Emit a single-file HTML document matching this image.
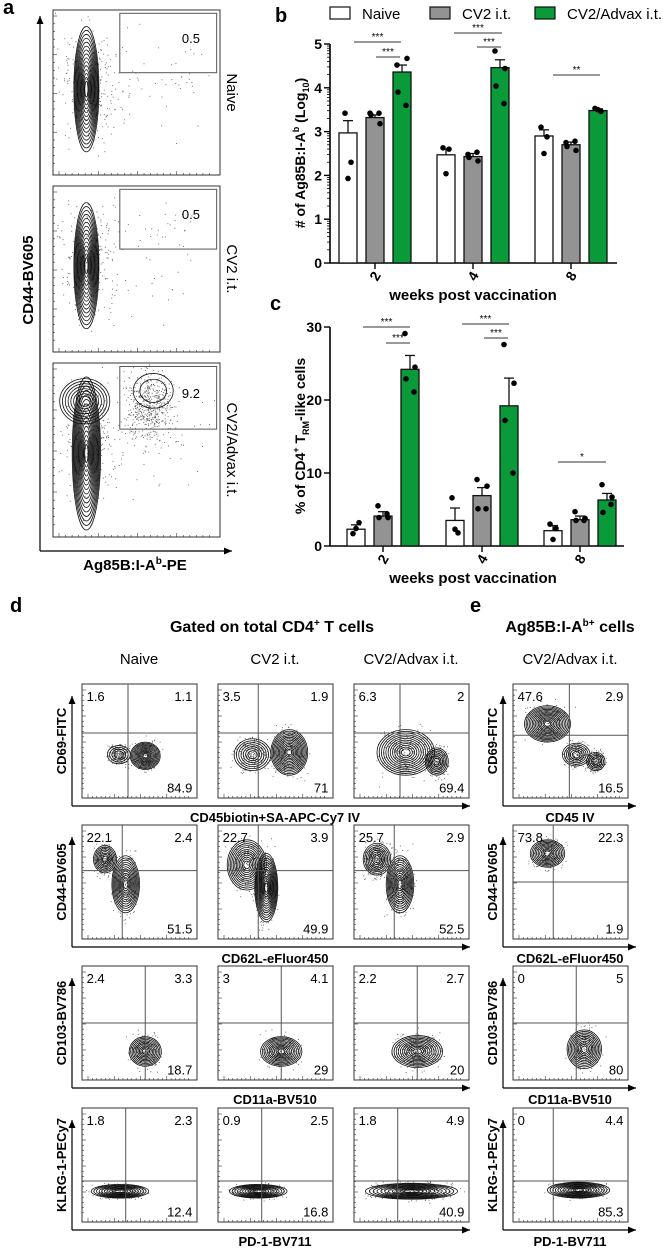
<!DOCTYPE html>
<html><head><meta charset="utf-8"><style>
body{margin:0;background:#fff}
svg{display:block;font-family:"Liberation Sans",Arial,sans-serif}
</style></head><body>
<svg id="fig" width="663" height="1248" viewBox="0 0 663 1248" xmlns="http://www.w3.org/2000/svg"></svg>
<script>
// ---------- chart data ----------
const groups = ["2","4","8"];
const seriesNames = ["Naive","CV2 i.t.","CV2/Advax i.t."];
const bMeans = [[2.97,3.32,4.36],[2.47,2.43,4.46],[2.9,2.7,3.48]];
const bErr = [[3.25,3.38,4.52],[2.6,2.5,4.64],[3.04,2.76,3.52]];
const bPts = [[[3.42,2.3,1.93],[3.42,3.18,3.38,3.42],[4.52,4.67,3.9,3.6]],
              [[2.63,2.6,2.04],[2.48,2.33,2.41,2.53],[4.84,4.44,4.04,3.64]],
              [[3.1,2.88,2.5],[2.75,2.57,2.66,2.78],[3.53,3.46,3.5]]];
const bTicks = [0,1,2,3,4,5];
const cMeans = [[2.3,4.1,24.2],[3.5,6.9,19.2],[2.1,3.6,6.3]];
const cErr = [[2.9,4.7,26.1],[5.2,8.0,23.0],[2.8,4.1,7.2]];
const cPts = [[[1.7,3.2,2.4],[5.5,3.9,3.9,4.4],[29.1,24.5,22.9,21.1]],
              [[6.6,1.8,2.3],[9.1,8.2,5.1,5.1],[27.6,22.3,17.2,10.0]],
              [[3.0,2.4,0.9],[4.7,3.8,3.5,3.5],[8.4,6.7,4.6,5.7]]];
const cTicks = [0,10,20,30];

const NS="http://www.w3.org/2000/svg";
const svg=document.getElementById('fig');
function el(tag,attrs,parent,text){const e=document.createElementNS(NS,tag);for(const k in attrs)e.setAttribute(k,attrs[k]);if(text!==undefined)e.textContent=text;(parent||svg).appendChild(e);return e;}
const fills=["#ffffff","#939393","#0a9a3a"];
let seed=7;function rnd(){seed=(seed*16807)%2147483647;return seed/2147483647;}
function gauss(){return (rnd()+rnd()+rnd()-1.5)/1.5;}

function barChart(name,yMin,yMax,y0px,yTopPx,xLeft,xRight,centers,means,errs,pts,ticks,logMinor){
  const g=el('g',{});
  
  
  const ys=v=>y0px-(v-yMin)/(yMax-yMin)*(y0px-yTopPx);
  el('line',{x1:xLeft,y1:yTopPx,x2:xLeft,y2:y0px,stroke:'#000','stroke-width':1.6},g);
  el('line',{x1:xLeft,y1:y0px,x2:xRight,y2:y0px,stroke:'#000','stroke-width':1.6},g);
  ticks.forEach(t=>{el('line',{x1:xLeft-6,y1:ys(t),x2:xLeft,y2:ys(t),stroke:'#000','stroke-width':1.4},g);
    const tl=el('text',{x:xLeft-8,y:ys(t)+5,'text-anchor':'end','font-size':14,'font-weight':'bold'},g,String(t));
    });
  if(logMinor){for(let d=0;d<5;d++)for(let k=2;k<10;k++){const v=d+Math.log10(k);el('line',{x1:xLeft-3,y1:ys(v),x2:xLeft,y2:ys(v),stroke:'#000','stroke-width':0.8},g);}}
  const off=[-27,0,27];
  groups.forEach((gr,gi)=>{
    const cx=centers[gi];
    el('line',{x1:cx,y1:y0px,x2:cx,y2:y0px+6,stroke:'#000','stroke-width':1.4},g);
    const tl=el('text',{x:cx,y:y0px+18,'text-anchor':'middle','font-size':14,'font-weight':'bold',transform:`rotate(-60 ${cx} ${y0px+13})`},g,gr);
    
    for(let s=0;s<3;s++){
      const x=cx+off[s];
      const b=el('rect',{x:x-9,y:ys(means[gi][s]),width:18,height:y0px-ys(means[gi][s]),fill:fills[s],stroke:'#111','stroke-width':1.3},g);
      
      el('line',{x1:x,y1:ys(means[gi][s]),x2:x,y2:ys(errs[gi][s]),stroke:'#111','stroke-width':1.3},g);
      el('line',{x1:x-5,y1:ys(errs[gi][s]),x2:x+5,y2:ys(errs[gi][s]),stroke:'#111','stroke-width':1.3},g);
      const p=pts[gi][s];
      p.forEach((v,i)=>{const dx=p.length===3?[-3,3,0][i]:[-5,5,-4,4][i];
        const c=el('circle',{cx:x+dx,cy:ys(v),r:2.8,fill:'#000'},g);
        });
    }
  });
  return g;
}
barChart('chart-b',0,5,263,44,330,617,[375,473,571],bMeans,bErr,bPts,bTicks,true);
barChart('chart-c',0,30,546,327,330,624,[383,482,580],cMeans,cErr,cPts,cTicks,false);

function T(x,y,s,attrs,name){const a=Object.assign({x:x,y:y},attrs||{});const t=el('text',a,svg,s);return t;}
function sig(x1,x2,y,s){el('line',{x1:x1,y1:y,x2:x2,y2:y,stroke:'#333','stroke-width':1});T((x1+x2)/2,y-2,s,{'text-anchor':'middle','font-size':10},'significance-stars');}
sig(354,401,42,'***');sig(376,400,57,'***');sig(454,502,33,'***');sig(477,501,47,'***');sig(553,600,75,'**');
sig(363,410,327,'***');sig(386,410,343,'***');sig(462,509,324,'***');sig(484,508,338,'***');sig(558,606,462,'*');

const lx=[330,430,535];
seriesNames.forEach((n,i)=>{const r=el('rect',{x:lx[i],y:7,width:20,height:12,fill:fills[i],stroke:'#111','stroke-width':1.2});
  
  T(lx[i]+32,19,n,{'font-size':15},'legend-entry');});

T(275,22,'b',{'font-size':20,'font-weight':'bold'},'panel-label-b');
T(270,310,'c',{'font-size':20,'font-weight':'bold'},'panel-label-c');
T(473,300,'weeks post vaccination',{'text-anchor':'middle','font-size':15,'font-weight':'bold'},'x-axis-title-b');
T(473,583,'weeks post vaccination',{'text-anchor':'middle','font-size':15,'font-weight':'bold'},'x-axis-title-c');
const yb=T(0,0,'',{'font-size':14,'font-weight':'bold','text-anchor':'middle',transform:'rotate(-90) translate(-153 305)'},'y-axis-title-b');
yb.innerHTML='# of Ag85B:I-A<tspan font-size="9" dy="-6">b</tspan><tspan dy="6">  (Log</tspan><tspan font-size="9" dy="4">10</tspan><tspan dy="-4">)</tspan>';
const yc=T(0,0,'',{'font-size':14,'font-weight':'bold','text-anchor':'middle',transform:'rotate(-90) translate(-436 305)'},'y-axis-title-c');
yc.innerHTML='% of CD4<tspan font-size="9" dy="-6">+</tspan><tspan dy="6"> T</tspan><tspan font-size="9" dy="4">RM</tspan><tspan dy="-4">-like cells</tspan>';

// ---------- flow plots ----------
function flow(name,x,y,w,h,opts){
  const g=el('g',{});
  el('rect',{x:x,y:y,width:w,height:h,fill:'#fff',stroke:'#333','stroke-width':1},g);
  for(let i=0;i<24;i++){const tx=x+6+i*(w-10)/24;el('line',{x1:tx,y1:y+h,x2:tx,y2:y+h-(i%6==0?4:2),stroke:'#333','stroke-width':0.6},g);}
  for(let i=0;i<20;i++){const ty=y+6+i*(h-10)/20;el('line',{x1:x,y1:ty,x2:x+(i%5==0?4:2),y2:ty,stroke:'#333','stroke-width':0.6},g);}
  (opts.scatter||[]).forEach(s=>{for(let i=0;i<s[4];i++){const px=x+w*(s[0]+gauss()*s[2]),py=y+h*(s[1]+gauss()*s[3]);
    if(px>x+1&&px<x+w-1&&py>y+1&&py<y+h-1)el('rect',{x:px,y:py,width:0.9,height:0.9,fill:'#555'},g);}});
  (opts.blobs||[]).forEach(b=>{const n=b[4];for(let i=0;i<n;i++){const f=1-i/(n+1);
    el('ellipse',{cx:x+w*b[0],cy:y+h*b[1],rx:w*b[2]*f,ry:h*b[3]*f,fill:'none',stroke:'#111','stroke-width':0.8},g);}});
  if(opts.q){el('line',{x1:x+w*opts.q[0],y1:y,x2:x+w*opts.q[0],y2:y+h,stroke:'#555','stroke-width':1},g);
    el('line',{x1:x,y1:y+h*opts.q[1],x2:x+w,y2:y+h*opts.q[1],stroke:'#555','stroke-width':1},g);}
  if(opts.gate){const gt=opts.gate;el('rect',{x:x+w*gt[0],y:y+h*gt[1],width:w*gt[2],height:h*gt[3],fill:'none',stroke:'#555','stroke-width':1},g);}
  (opts.nums||[]).forEach(n=>{const t=el('text',{x:x+w*n[1],y:y+h*n[2],'font-size':13,'text-anchor':n[3]||'start'},g,n[0]);
    });
}
function arrowAxes(x0,yTop,yBot,xRight){
  el('line',{x1:x0,y1:yTop,x2:x0,y2:yBot,stroke:'#000','stroke-width':1.2});
  el('line',{x1:x0,y1:yBot,x2:xRight,y2:yBot,stroke:'#000','stroke-width':1.2});
  el('path',{d:`M${x0-3.5},${yTop+8} L${x0},${yTop} L${x0+3.5},${yTop+8}Z`,fill:'#000'});
  el('path',{d:`M${xRight-8},${yBot-3.5} L${xRight},${yBot} L${xRight-8},${yBot+3.5}Z`,fill:'#000'});
}
T(3,14,'a',{'font-size':20,'font-weight':'bold'},'panel-label-a');
arrowAxes(40,16,551,232);
const aRows=[[10,165,'Naive','0.5',false],[186,166,'CV2 i.t.','0.5',false],[363,174,'CV2/Advax i.t.','9.2',true]];
aRows.forEach((r,i)=>{
  const bl=[[0.2,0.48,0.075,0.38,15]];const sc=[[0.22,0.45,0.25,0.5,260],[0.6,0.4,0.5,0.5,50]];
  if(r[4]){bl[0]=[0.2,0.52,0.085,0.44,16];bl.push([0.19,0.22,0.15,0.13,8]);bl.push([0.6,0.16,0.12,0.1,2]);sc.push([0.58,0.25,0.22,0.3,500]);}
  flow('flow-a-'+i,53,r[0],167,r[1],{blobs:bl,scatter:sc,gate:[0.4,0.02,0.58,0.36],nums:[[r[3],0.88,0.2,'end']]});
  const t=el('text',{x:0,y:0,'font-size':15,'text-anchor':'middle',transform:`translate(227 ${r[0]+r[1]/2}) rotate(90)`},svg,r[2]);
  
});
T(0,0,'CD44-BV605',{'font-size':15,'font-weight':'bold','text-anchor':'middle',transform:'translate(33 280) rotate(-90)'},'y-axis-title-a');
const aX=T(135,570,'',{'font-size':15,'font-weight':'bold','text-anchor':'middle'},'x-axis-title-a');
aX.innerHTML='Ag85B:I-A<tspan font-size="10" dy="-6">b</tspan><tspan dy="6">-PE</tspan>';

T(10,612,'d',{'font-size':20,'font-weight':'bold'},'panel-label-d');
T(470,612,'e',{'font-size':20,'font-weight':'bold'},'panel-label-e');
const dh=T(272,632,'',{'font-size':16,'font-weight':'bold','text-anchor':'middle'},'title-d');
dh.innerHTML='Gated on total CD4<tspan font-size="10" dy="-6">+</tspan><tspan dy="6"> T cells</tspan>';
const eh=T(570,632,'',{'font-size':16,'font-weight':'bold','text-anchor':'middle'},'title-e');
eh.innerHTML='Ag85B:I-A<tspan font-size="10" dy="-6">b+</tspan><tspan dy="6"> cells</tspan>';
const colX=[82,218,354,513];
['Naive','CV2 i.t.','CV2/Advax i.t.','CV2/Advax i.t.'].forEach((s,i)=>T(colX[i]+57,664,s,{'font-size':15,'text-anchor':'middle'},'column-header'));
const rowY=[684,825,966,1108];const W=115,H=114;
const yLab=['CD69-FITC','CD44-BV605','CD103-BV786','KLRG-1-PECy7'];
const xLabD=['CD45biotin+SA-APC-Cy7 IV','CD62L-eFluor450','CD11a-BV510','PD-1-BV711'];
const xLabE=['CD45 IV','CD62L-eFluor450','CD11a-BV510','PD-1-BV711'];
const nums=[
 [['1.6','1.1','84.9'],['3.5','1.9','71'],['6.3','2','69.4'],['47.6','2.9','16.5']],
 [['22.1','2.4','51.5'],['22.7','3.9','49.9'],['25.7','2.9','52.5'],['73.8','22.3','1.9']],
 [['2.4','3.3','18.7'],['3','4.1','29'],['2.2','2.7','20'],['0','5','80']],
 [['1.8','2.3','12.4'],['0.9','2.5','16.8'],['1.8','4.9','40.9'],['0','4.4','85.3']]];
const quads=[[[0.4,0.43],[0.35,0.43],[0.4,0.43],[0.49,0.45]],[[0.35,0.4],[0.35,0.4],[0.35,0.4],[0.35,0.5]],
 [[0.55,0.5],[0.55,0.5],[0.55,0.5],[0.55,0.5]],[[0.38,0.64],[0.38,0.64],[0.38,0.64],[0.35,0.64]]];
const blobs=[
 [[[0.55,0.63,0.13,0.12,12],[0.32,0.62,0.1,0.08,4]],[[0.62,0.6,0.16,0.2,14],[0.3,0.62,0.16,0.14,7]],[[0.45,0.6,0.25,0.2,12],[0.72,0.68,0.1,0.12,7]],[[0.3,0.35,0.2,0.16,14],[0.55,0.62,0.12,0.1,6],[0.72,0.68,0.08,0.08,5]]],
 [[[0.2,0.3,0.1,0.12,8],[0.38,0.52,0.12,0.25,12]],[[0.25,0.35,0.17,0.22,12],[0.42,0.55,0.1,0.3,14]],[[0.2,0.3,0.12,0.14,8],[0.4,0.52,0.12,0.25,12]],[[0.3,0.25,0.15,0.12,10]]],
 [[[0.55,0.75,0.14,0.13,10]],[[0.55,0.75,0.18,0.13,11]],[[0.55,0.75,0.22,0.14,11]],[[0.62,0.73,0.15,0.17,11]]],
 [[[0.33,0.73,0.25,0.06,10]],[[0.35,0.73,0.25,0.06,10]],[[0.5,0.73,0.4,0.07,11]],[[0.57,0.72,0.27,0.07,11]]]];
rowY.forEach((ry,r)=>{
  arrowAxes(72,ry+12,ry+H+8,470);
  arrowAxes(503,ry+12,ry+H+8,636);
  colX.forEach((cx,c)=>{
    const b=blobs[r][c];const sc=b.map(q=>[q[0],q[1],q[2]*1.3,q[3]*1.6,c==2&&r>0?350:220]);
    flow('flow-'+(c<3?'d':'e')+'-r'+r+'-c'+c,cx,ry,W,H,{q:quads[r][c],blobs:b,scatter:sc,
      nums:[[nums[r][c][0],0.04,0.15],[nums[r][c][1],0.96,0.15,'end'],[nums[r][c][2],0.96,0.95,'end']]});
  });
  T(0,0,yLab[r],{'font-size':13,'font-weight':'bold','text-anchor':'middle',transform:`translate(66 ${ry+H/2}) rotate(-90)`},'y-axis-title-d');
  T(0,0,yLab[r],{'font-size':13,'font-weight':'bold','text-anchor':'middle',transform:`translate(497 ${ry+H/2}) rotate(-90)`},'y-axis-title-e');
  T(275,ry+H+24,xLabD[r],{'font-size':13,'font-weight':'bold','text-anchor':'middle'},'x-axis-title-d');
  T(570,ry+H+24,xLabE[r],{'font-size':13,'font-weight':'bold','text-anchor':'middle'},'x-axis-title-e');
});
</script>
</body></html>
